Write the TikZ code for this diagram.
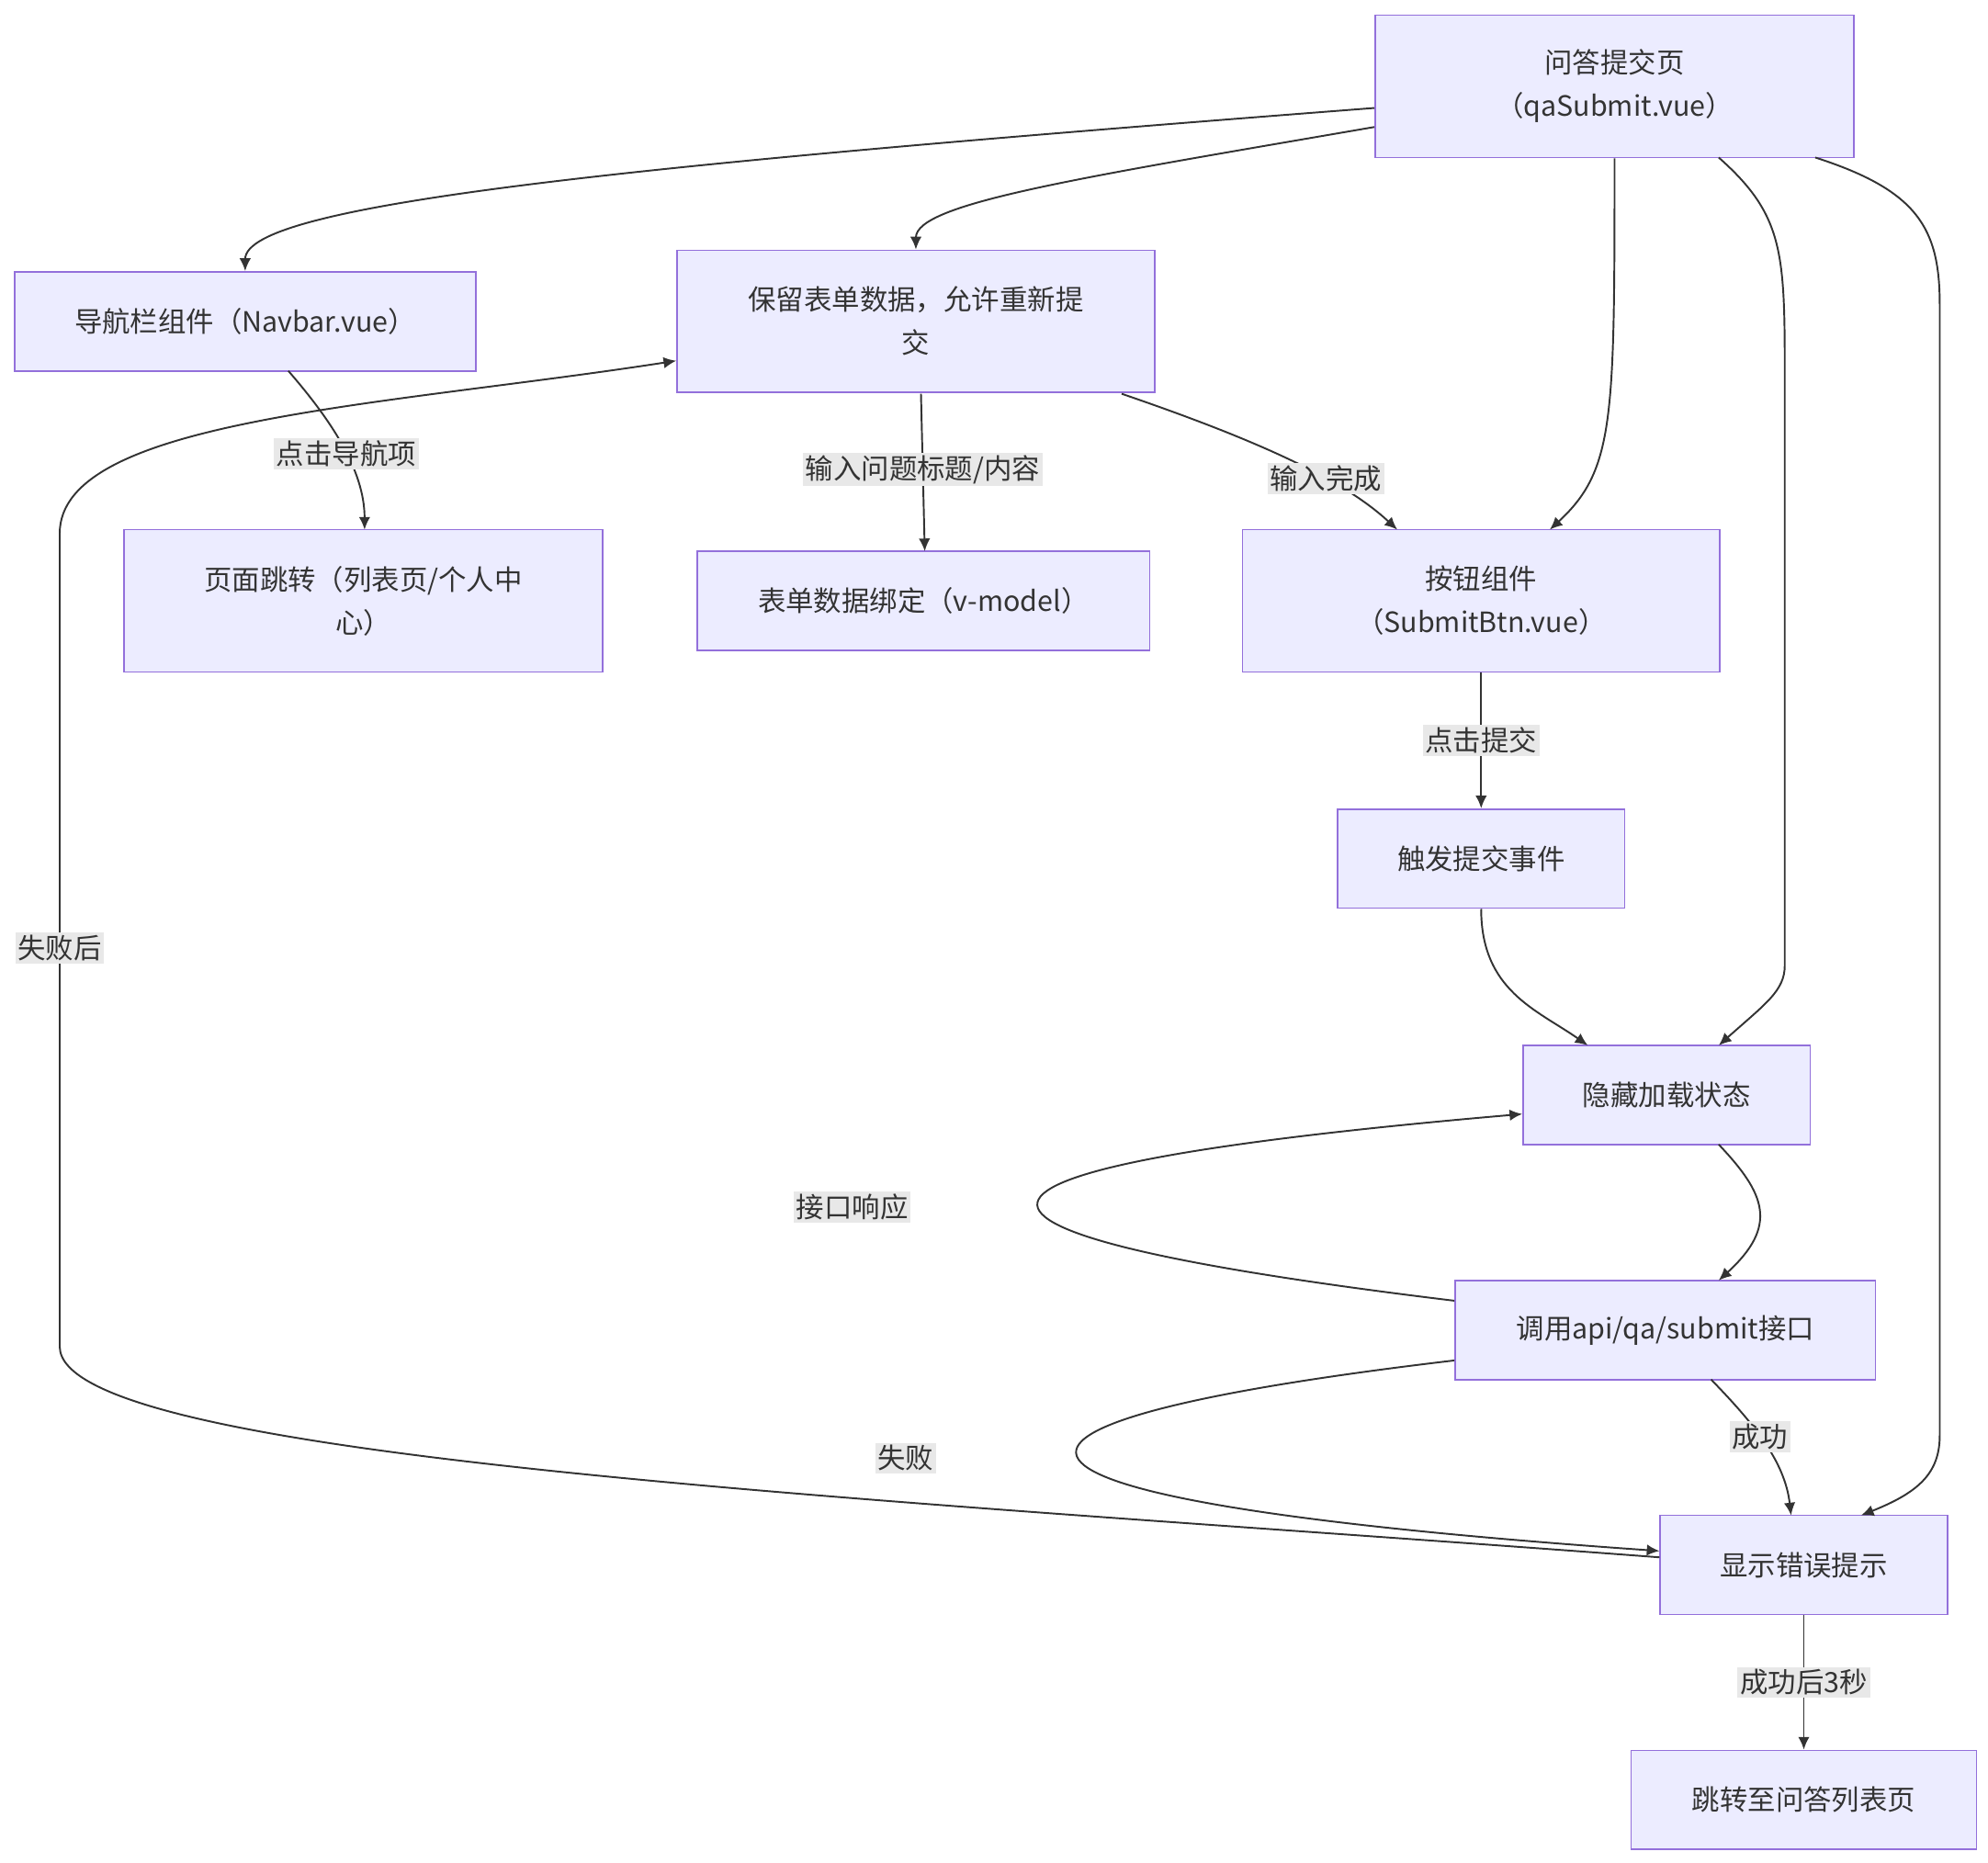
\documentclass[tikz,border=0pt]{standalone}
\usepackage{fontspec}
\setmainfont{Noto Sans CJK SC}
\usetikzlibrary{arrows.meta}
\definecolor{nfill}{HTML}{ECECFF}
\definecolor{nbord}{HTML}{9370DB}
\definecolor{ln}{HTML}{333333}
\definecolor{lbg}{HTML}{E8E8E8}
\begin{document}
\begin{tikzpicture}[x=0.5pt,y=-0.5pt,
  box/.style={draw=nbord,fill=nfill,line width=0.6pt,minimum width=#1*0.5pt,align=center,font=\fontsize{11}{17}\selectfont,text=ln,inner sep=0pt},
  e/.style={draw=ln,line width=0.7pt,-{Latex[length=5pt,width=4.5pt]}},
  lab/.style={fill=lbg,font=\fontsize{11}{13}\selectfont,text=ln,inner sep=1pt}]
\useasboundingbox (0,0) rectangle (1565,1466);
\node[box=377,minimum height=56pt] (qa) at (1271,68) {问答提交页\\（qaSubmit.vue）};
\node[box=363,minimum height=39pt] (nav) at (193,253) {导航栏组件（Navbar.vue）};
\node[box=376,minimum height=56pt] (keep) at (721,253) {保留表单数据，允许重新提\\交};
\node[box=377,minimum height=56pt] (jump) at (286,473) {页面跳转（列表页/个人中\\心）};
\node[box=356,minimum height=39pt] (bind) at (727,473) {表单数据绑定（v-model）};
\node[box=376,minimum height=56pt] (btn) at (1166,473) {按钮组件\\（SubmitBtn.vue）};
\node[box=226,minimum height=39pt] (trig) at (1166,676) {触发提交事件};
\node[box=226,minimum height=39pt] (hide) at (1312,862) {隐藏加载状态};
\node[box=331,minimum height=39pt] (api) at (1311,1047) {调用api/qa/submit接口};
\node[box=226,minimum height=39pt] (err) at (1420,1232) {显示错误提示};
\node[box=272,minimum height=39pt] (go) at (1420,1417) {跳转至问答列表页};

\draw[e] (qa.west |- 0,85) .. controls (500,130) and (193,160) .. (nav.north);
\draw[e] (qa.west |- 0,100) .. controls (850,140) and (721,160) .. (keep.north);
\draw[e] (qa.south) .. controls (1271,330) and (1271,370) .. (1220,417);
\draw[e] (1353,124) .. controls (1405,170) and (1405,200) .. (1405,300) -- (1405,760) .. controls (1405,780) and (1390,790) .. (1353,823);
\draw[e] (1429,124) .. controls (1510,150) and (1527,180) .. (1527,240) -- (1527,1130) .. controls (1527,1160) and (1510,1175) .. (1465,1193);
\draw[e] (227,292) .. controls (260,330) and (287,370) .. node[lab,pos=0.55]{点击导航项} (287,417);
\draw[e] (725,310) -- node[lab,pos=0.48]{输入问题标题/内容} (728,434);
\draw[e] (883,310) .. controls (1000,350) and (1060,380) .. node[lab,pos=0.62]{输入完成} (1100,417);
\draw[e] (btn.south) -- node[lab]{点击提交} (trig.north);
\draw[e] (trig.south) .. controls (1166,780) and (1210,795) .. (1250,823);
\draw[e] (1353,901) .. controls (1390,940) and (1400,965) .. (1353,1008);
\draw[e] (api.west |- 0,1024) .. controls (700,970) and (700,920) .. (hide.west |- 0,877);
\node[lab] (l1) at (671,950) {接口响应};
\draw[e] (api.west |- 0,1071) .. controls (730,1120) and (720,1180) .. (err.west |- 0,1221);
\node[lab] (l2) at (713,1148) {失败};
\draw[e] (1347,1086) .. controls (1380,1120) and (1405,1150) .. node[lab,pos=0.45]{成功} (1410,1193);
\draw[e] (err.west |- 0,1226) .. controls (700,1180) and (47,1150) .. (47,1060) -- node[lab,pos=0.49]{失败后} (47,420) .. controls (47,330) and (300,320) .. (keep.west |- 0,284);
\draw[e] (err.south) -- node[lab]{成功后3秒} (go.north);
\end{tikzpicture}
\end{document}
